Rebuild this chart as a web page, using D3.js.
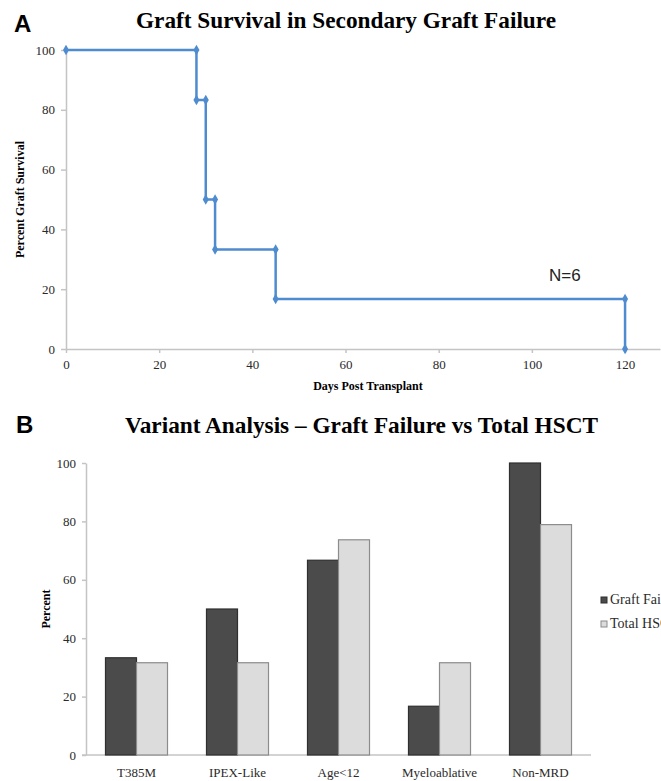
<!DOCTYPE html>
<html>
<head>
<meta charset="utf-8">
<script src="https://cdn.jsdelivr.net/npm/d3@7"></script>
<style>
  body { margin: 0; background: #fff; }
  svg { display: block; }
</style>
</head>
<body>
<svg id="chart"></svg>
<script>
// Панель A: виживання трансплантата
const days = [0, 28, 28, 30, 30, 32, 32, 45, 45, 120, 120];
const survival = [100, 100, 83.3, 83.3, 50, 50, 33.3, 33.3, 16.7, 16.7, 0];
const dayTicks = [0, 20, 40, 60, 80, 100, 120];
const percentTicks = [0, 20, 40, 60, 80, 100];

// Панель B: аналіз варіантів
const categories = ['T385M', 'IPEX-Like', 'Age<12', 'Myeloablative', 'Non-MRD'];
const seriesNames = ['Graft Failure', 'Total HSCT'];
const graftFailure = [33.3, 50, 66.7, 16.7, 100];
const totalHSCT = [31.6, 31.6, 73.7, 31.6, 78.9];

const W = 661, H = 781;
const serif = '"Liberation Serif", "Times New Roman", serif';
const sans = '"Liberation Sans", Arial, sans-serif';
const axisGray = '#c4c4c4';
const blue = '#4f8ccf';

const svg = d3.select('#chart').attr('width', W).attr('height', H);

function styleAxis(g) {
  g.select('.domain').style('stroke', axisGray).style('stroke-width', 1.5);
  g.selectAll('.tick line').style('stroke', axisGray).style('stroke-width', 1.5);
  g.selectAll('.tick text')
    .style('font-family', serif)
    .style('font-size', '13px')
    .style('fill', '#2a2a2a');
}

// ---------- A ----------
const xA = d3.scaleLinear().domain([0, 127.5]).range([66, 660]);
const yA = d3.scaleLinear().domain([0, 100]).range([349, 50]);

svg.append('text')
  .attr('x', 14).attr('y', 32)
  .style('font-family', sans).style('font-weight', 'bold').style('font-size', '24px')
  .text('A');

svg.append('text')
  .attr('x', 136).attr('y', 28)
  .attr('textLength', 420).attr('lengthAdjust', 'spacingAndGlyphs')
  .style('font-family', serif).style('font-weight', 'bold').style('font-size', '24px')
  .text('Graft Survival in Secondary Graft Failure');

svg.append('g')
  .attr('transform', `translate(0, ${yA(0)})`)
  .call(d3.axisBottom(xA).tickValues(dayTicks).tickSize(4).tickSizeOuter(0).tickPadding(7))
  .call(styleAxis);

svg.append('g')
  .attr('transform', `translate(${xA(0)}, 0)`)
  .call(d3.axisLeft(yA).tickValues(percentTicks).tickSize(5).tickSizeOuter(0).tickPadding(6))
  .call(styleAxis);

svg.append('text')
  .attr('transform', `translate(24, ${(yA(0) + yA(100)) / 2}) rotate(-90)`)
  .attr('text-anchor', 'middle')
  .style('font-family', serif).style('font-weight', 'bold').style('font-size', '12px')
  .text('Percent Graft Survival');

svg.append('text')
  .attr('x', 368).attr('y', 390)
  .attr('text-anchor', 'middle')
  .style('font-family', serif).style('font-weight', 'bold').style('font-size', '12px')
  .text('Days Post Transplant');

const stepPts = days.map((d, i) => [d, survival[i]]);
const line = d3.line().x(d => xA(d[0])).y(d => yA(d[1]));

svg.append('path')
  .datum(stepPts)
  .attr('d', line)
  .style('fill', 'none')
  .style('stroke', blue)
  .style('stroke-width', 2.5);

svg.append('g')
  .selectAll('path')
  .data(stepPts)
  .enter()
  .append('path')
  .attr('transform', d => `translate(${xA(d[0])}, ${yA(d[1])})`)
  .attr('d', d3.symbol().type(d3.symbolDiamond).size(32))
  .style('fill', blue);

svg.append('text')
  .attr('x', 549).attr('y', 281)
  .style('font-family', sans).style('font-size', '17px')
  .style('fill', '#222')
  .text('N=6');

// ---------- B ----------
const xB = d3.scaleBand().domain(categories).range([86, 591]).paddingInner(0.386).paddingOuter(0.193);
const xSeries = d3.scaleBand().domain(seriesNames).range([0, xB.bandwidth()]);
const yB = d3.scaleLinear().domain([0, 100]).range([755, 463]);

svg.append('text')
  .attr('x', 16).attr('y', 433)
  .style('font-family', sans).style('font-weight', 'bold').style('font-size', '24px')
  .text('B');

svg.append('text')
  .attr('x', 125).attr('y', 433)
  .attr('textLength', 473).attr('lengthAdjust', 'spacingAndGlyphs')
  .style('font-family', serif).style('font-weight', 'bold').style('font-size', '24px')
  .text('Variant Analysis \u2013 Graft Failure vs Total HSCT');

const gxB = svg.append('g')
  .attr('transform', `translate(0, ${yB(0)})`)
  .call(d3.axisBottom(xB).tickSize(0).tickSizeOuter(0).tickPadding(13))
  .call(styleAxis);
gxB.select('.domain').attr('d', `M82,0H591`);

svg.append('g')
  .attr('transform', `translate(86, 0)`)
  .call(d3.axisLeft(yB).tickValues(percentTicks).tickSize(4).tickSizeOuter(0).tickPadding(6))
  .call(styleAxis);

svg.append('text')
  .attr('transform', `translate(50, ${(yB(0) + yB(100)) / 2}) rotate(-90)`)
  .attr('text-anchor', 'middle')
  .style('font-family', serif).style('font-weight', 'bold').style('font-size', '12px')
  .text('Percent');

const seriesData = [graftFailure, totalHSCT];
const fills = ['#4b4b4b', '#dcdcdc'];
const strokes = ['#2f2f2f', '#8c8c8c'];

const rows = [];
categories.forEach((c, i) => {
  seriesNames.forEach((s, j) => rows.push({ cat: c, series: s, j: j, value: seriesData[j][i] }));
});

svg.append('g')
  .selectAll('rect')
  .data(rows)
  .enter()
  .append('rect')
  .attr('x', d => xB(d.cat) + xSeries(d.series))
  .attr('y', d => yB(d.value))
  .attr('width', xSeries.bandwidth())
  .attr('height', d => yB(0) - yB(d.value))
  .style('fill', d => fills[d.j])
  .style('stroke', d => strokes[d.j])
  .style('stroke-width', 1.2);

// Легенда
const legend = svg.append('g')
  .selectAll('g')
  .data(seriesNames)
  .enter()
  .append('g')
  .attr('transform', (d, i) => `translate(601, ${597 + i * 24})`);

legend.append('rect')
  .attr('width', 6).attr('height', 6)
  .style('fill', (d, i) => fills[i])
  .style('stroke', (d, i) => strokes[i])
  .style('stroke-width', 1);

legend.append('text')
  .attr('x', 9).attr('y', 7)
  .style('font-family', serif).style('font-size', '14px')
  .style('fill', '#2a2a2a')
  .text(d => d);
</script>
</body>
</html>
